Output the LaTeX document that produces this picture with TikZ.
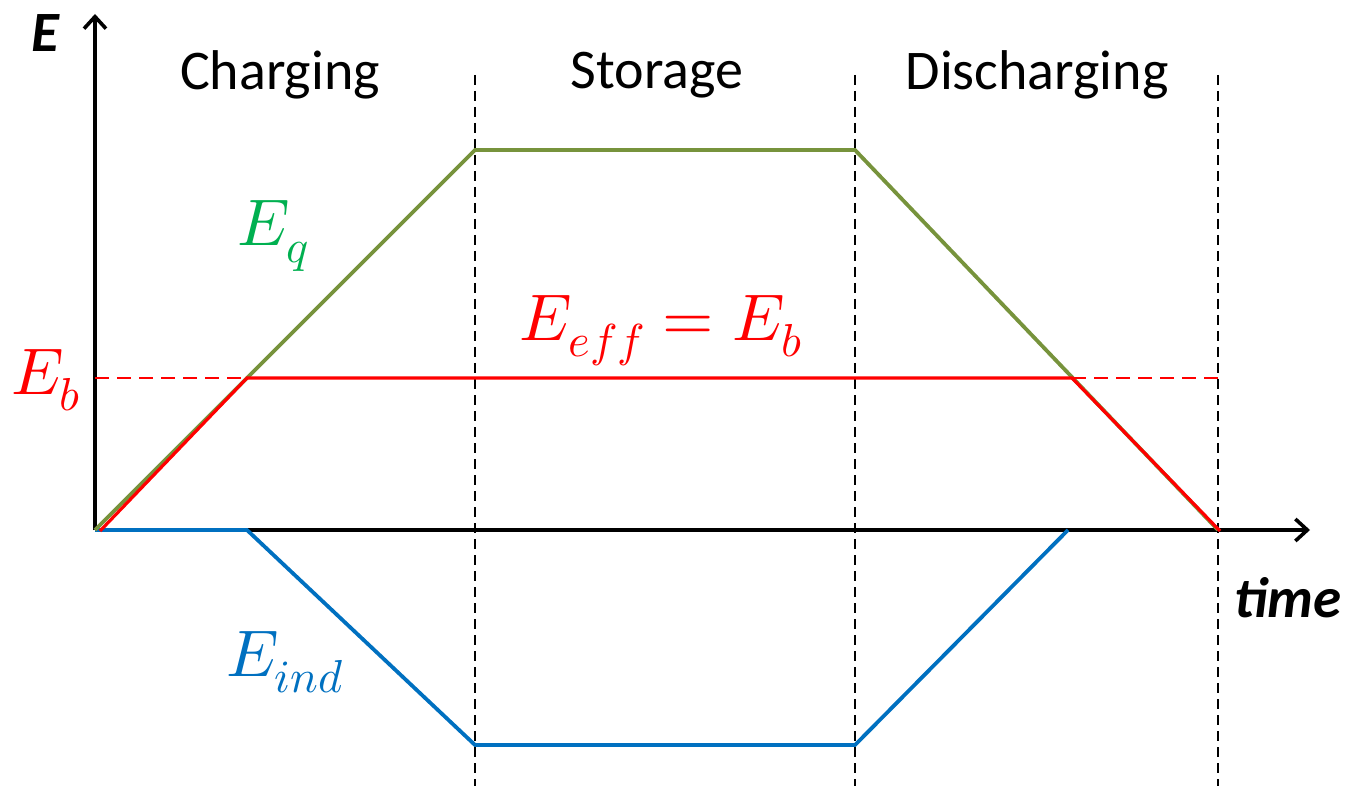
\documentclass[tikz,border=0pt]{standalone}
\usepackage{unicode-math}
\setmainfont{Carlito}
\setmathfont{Latin Modern Math}
\usetikzlibrary{arrows.meta}
\definecolor{olivegreen}{RGB}{119,147,60}
\definecolor{textgreen}{RGB}{0,176,80}
\definecolor{myblue}{RGB}{0,112,192}
\definecolor{myred}{RGB}{255,0,0}
\begin{document}
\begin{tikzpicture}[x=1pt,y=-1pt,
  axis/.style={line width=4pt,-{Straight Barb[length=12pt,width=22pt,line width=3.6pt]}},
  phase/.style={line width=2.8pt,dash pattern=on 10pt off 6pt},
  curve/.style={line width=3.8pt,line join=miter},
  lbl/.style={font=\fontsize{56}{60}\selectfont,inner sep=0pt},
  axlbl/.style={font=\fontsize{57}{60}\selectfont\bfseries\itshape,inner sep=0pt},
  mlbl/.style={font=\fontsize{66}{70}\selectfont,inner sep=0pt}]
\useasboundingbox (0,0) rectangle (1366,786);
% key points
\coordinate (O) at (95,530);
\coordinate (Ytop) at (95,14);
\coordinate (Xend) at (1310,530);
\coordinate (Q1) at (475,150);
\coordinate (Q2) at (855,150);
\coordinate (Q3) at (1218,530);
\coordinate (R0) at (100,531);
\coordinate (R1) at (247,378);
\coordinate (R2) at (1072,378);
\coordinate (R3) at (1220,531);
\coordinate (Bl) at (95,378);
\coordinate (Br) at (1218,378);
\coordinate (B1) at (247,530);
\coordinate (B2) at (475,745);
\coordinate (B3) at (855,745);
\coordinate (B4) at (1068,530);
\coordinate (D1t) at (475,75);
\coordinate (D1b) at (475,786);
\coordinate (D2t) at (855,75);
\coordinate (D2b) at (855,786);
\coordinate (D3t) at (1218,75);
\coordinate (D3b) at (1218,786);
% phase separators
\draw[phase] (D1t) -- (D1b);
\draw[phase] (D2t) -- (D2b);
\draw[phase] (D3t) -- (D3b);
% axes
\draw[axis] (O) -- (Ytop);
\draw[axis] (O) -- (Xend);
% curves
\draw[curve,myblue] (O) -- (B1) -- (B2) -- (B3) -- (B4);
\draw[curve,olivegreen] (O) -- (Q1) -- (Q2) -- (Q3);
\draw[line width=2.8pt,myred,dash pattern=on 14pt off 8pt] (Bl) -- (R1);
\draw[line width=2.8pt,myred,dash pattern=on 14pt off 8pt] (R2) -- (Br);
\draw[curve,myred,line width=3.2pt] (R0) -- (R1) -- (R2) -- (R3);
% labels
\node[lbl] (charging) at (280,75) {Charging};
\node[lbl] (storage) at (657,75) {Storage};
\node[lbl] (discharging) at (1037,75) {Discharging};
\node[axlbl] (elab) at (45,33) {E};
\node[axlbl] (tlab) at (1288,598) {time};
\node[mlbl,textgreen] (eq) at (273,236) {$E_q$};
\node[mlbl,myred] (eeff) at (661,331) {$E_{eff}=E_b$};
\node[mlbl,myred] (eb) at (46,380) {$E_b$};
\node[mlbl,myblue] (eind) at (285,662) {$E_{ind}$};
\end{tikzpicture}
\end{document}
